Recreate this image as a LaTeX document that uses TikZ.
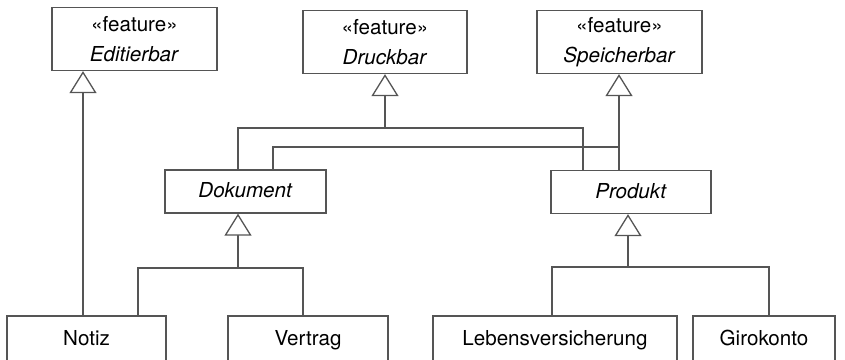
\documentclass[tikz,border=0pt]{standalone}
\usepackage{fontspec}
\setmainfont{TeX Gyre Heros}
\usetikzlibrary{arrows.meta, positioning}
\definecolor{linegray}{RGB}{85,85,85}

\begin{document}
\begin{tikzpicture}[
    x=0.5pt, y=-0.5pt,
    every node/.style={font=\fontsize{10.3}{15}\selectfont},
    box/.style={
        rectangle,
        draw=linegray,
        line width=0.65pt,
        fill=white,
        inner sep=0pt,
        text centered
    },
    feat/.style={box, minimum height=31.5pt, align=center},
    cls/.style={box, minimum height=21.5pt, text height=7.5pt, text depth=1.5pt},
    line/.style={draw=linegray, line width=0.65pt},
    gen/.style={line, -{Triangle[open, width=13.5pt, length=11pt, fill=white]}}
]
    \useasboundingbox (0,0) rectangle (845,359);

    % Features
    \node (edit) [feat, minimum width=82.5pt] at (134.5,39) {«feature»\\\textit{Editierbar}};
    \node (druck) [feat, minimum width=82pt] at (385,42) {«feature»\\\textit{Druckbar}};
    \node (speicher) [feat, minimum width=82.5pt] at (619.5,42) {«feature»\\\textit{Speicherbar}};

    % Abstract classes
    \node (dok) [cls, minimum width=80.5pt] at (245.5,191.5) {\textit{Dokument}};
    \node (prod) [cls, minimum width=80pt] at (631,192) {\textit{Produkt}};

    % Concrete classes
    \node (notiz) [cls, minimum width=79.5pt, minimum height=23pt] at (86.5,339) {Notiz};
    \node (vertrag) [cls, minimum width=80pt, minimum height=23pt] at (308,339) {Vertrag};
    \node (leben) [cls, minimum width=122pt, minimum height=23pt] at (555,339) {Lebensversicherung};
    \node (giro) [cls, minimum width=71pt, minimum height=23pt] at (764,339) {Girokonto};

    % Junctions
    \coordinate (jd) at (238,268);
    \coordinate (jp) at (628,267);
    \coordinate (jdr) at (385,128);
    \coordinate (js) at (619,147);
    \coordinate (ne) at ([xshift=-1.75pt]notiz.north);
    \coordinate (dd) at ([xshift=-3.75pt]dok.north);
    \coordinate (ds) at ([xshift=13.75pt]dok.north);
    \coordinate (pd) at ([xshift=-24pt]prod.north);
    \coordinate (ps) at ([xshift=-6pt]prod.north);

    % Notiz -> Editierbar
    \draw [gen] (ne) -- (ne |- edit.south);

    % Notiz, Vertrag -> Dokument
    \draw [line] ([xshift=25.75pt]notiz.north) |- (jd) -| ([xshift=-2.5pt]vertrag.north);
    \draw [gen] (jd) -- (dok.south -| jd);

    % Lebensversicherung, Girokonto -> Produkt
    \draw [line] ([xshift=-1.5pt]leben.north) |- (jp) -| ([xshift=2.5pt]giro.north);
    \draw [gen] (jp) -- (prod.south -| jp);

    % Dokument, Produkt -> Druckbar
    \draw [line] (dd) |- (jdr) -| (pd);
    \draw [gen] (jdr) -- (druck.south);

    % Dokument, Produkt -> Speicherbar
    \draw [line] (ds) |- (js) -- (ps);
    \draw [gen] (ps) -- (ps |- speicher.south);

\end{tikzpicture}
\end{document}
